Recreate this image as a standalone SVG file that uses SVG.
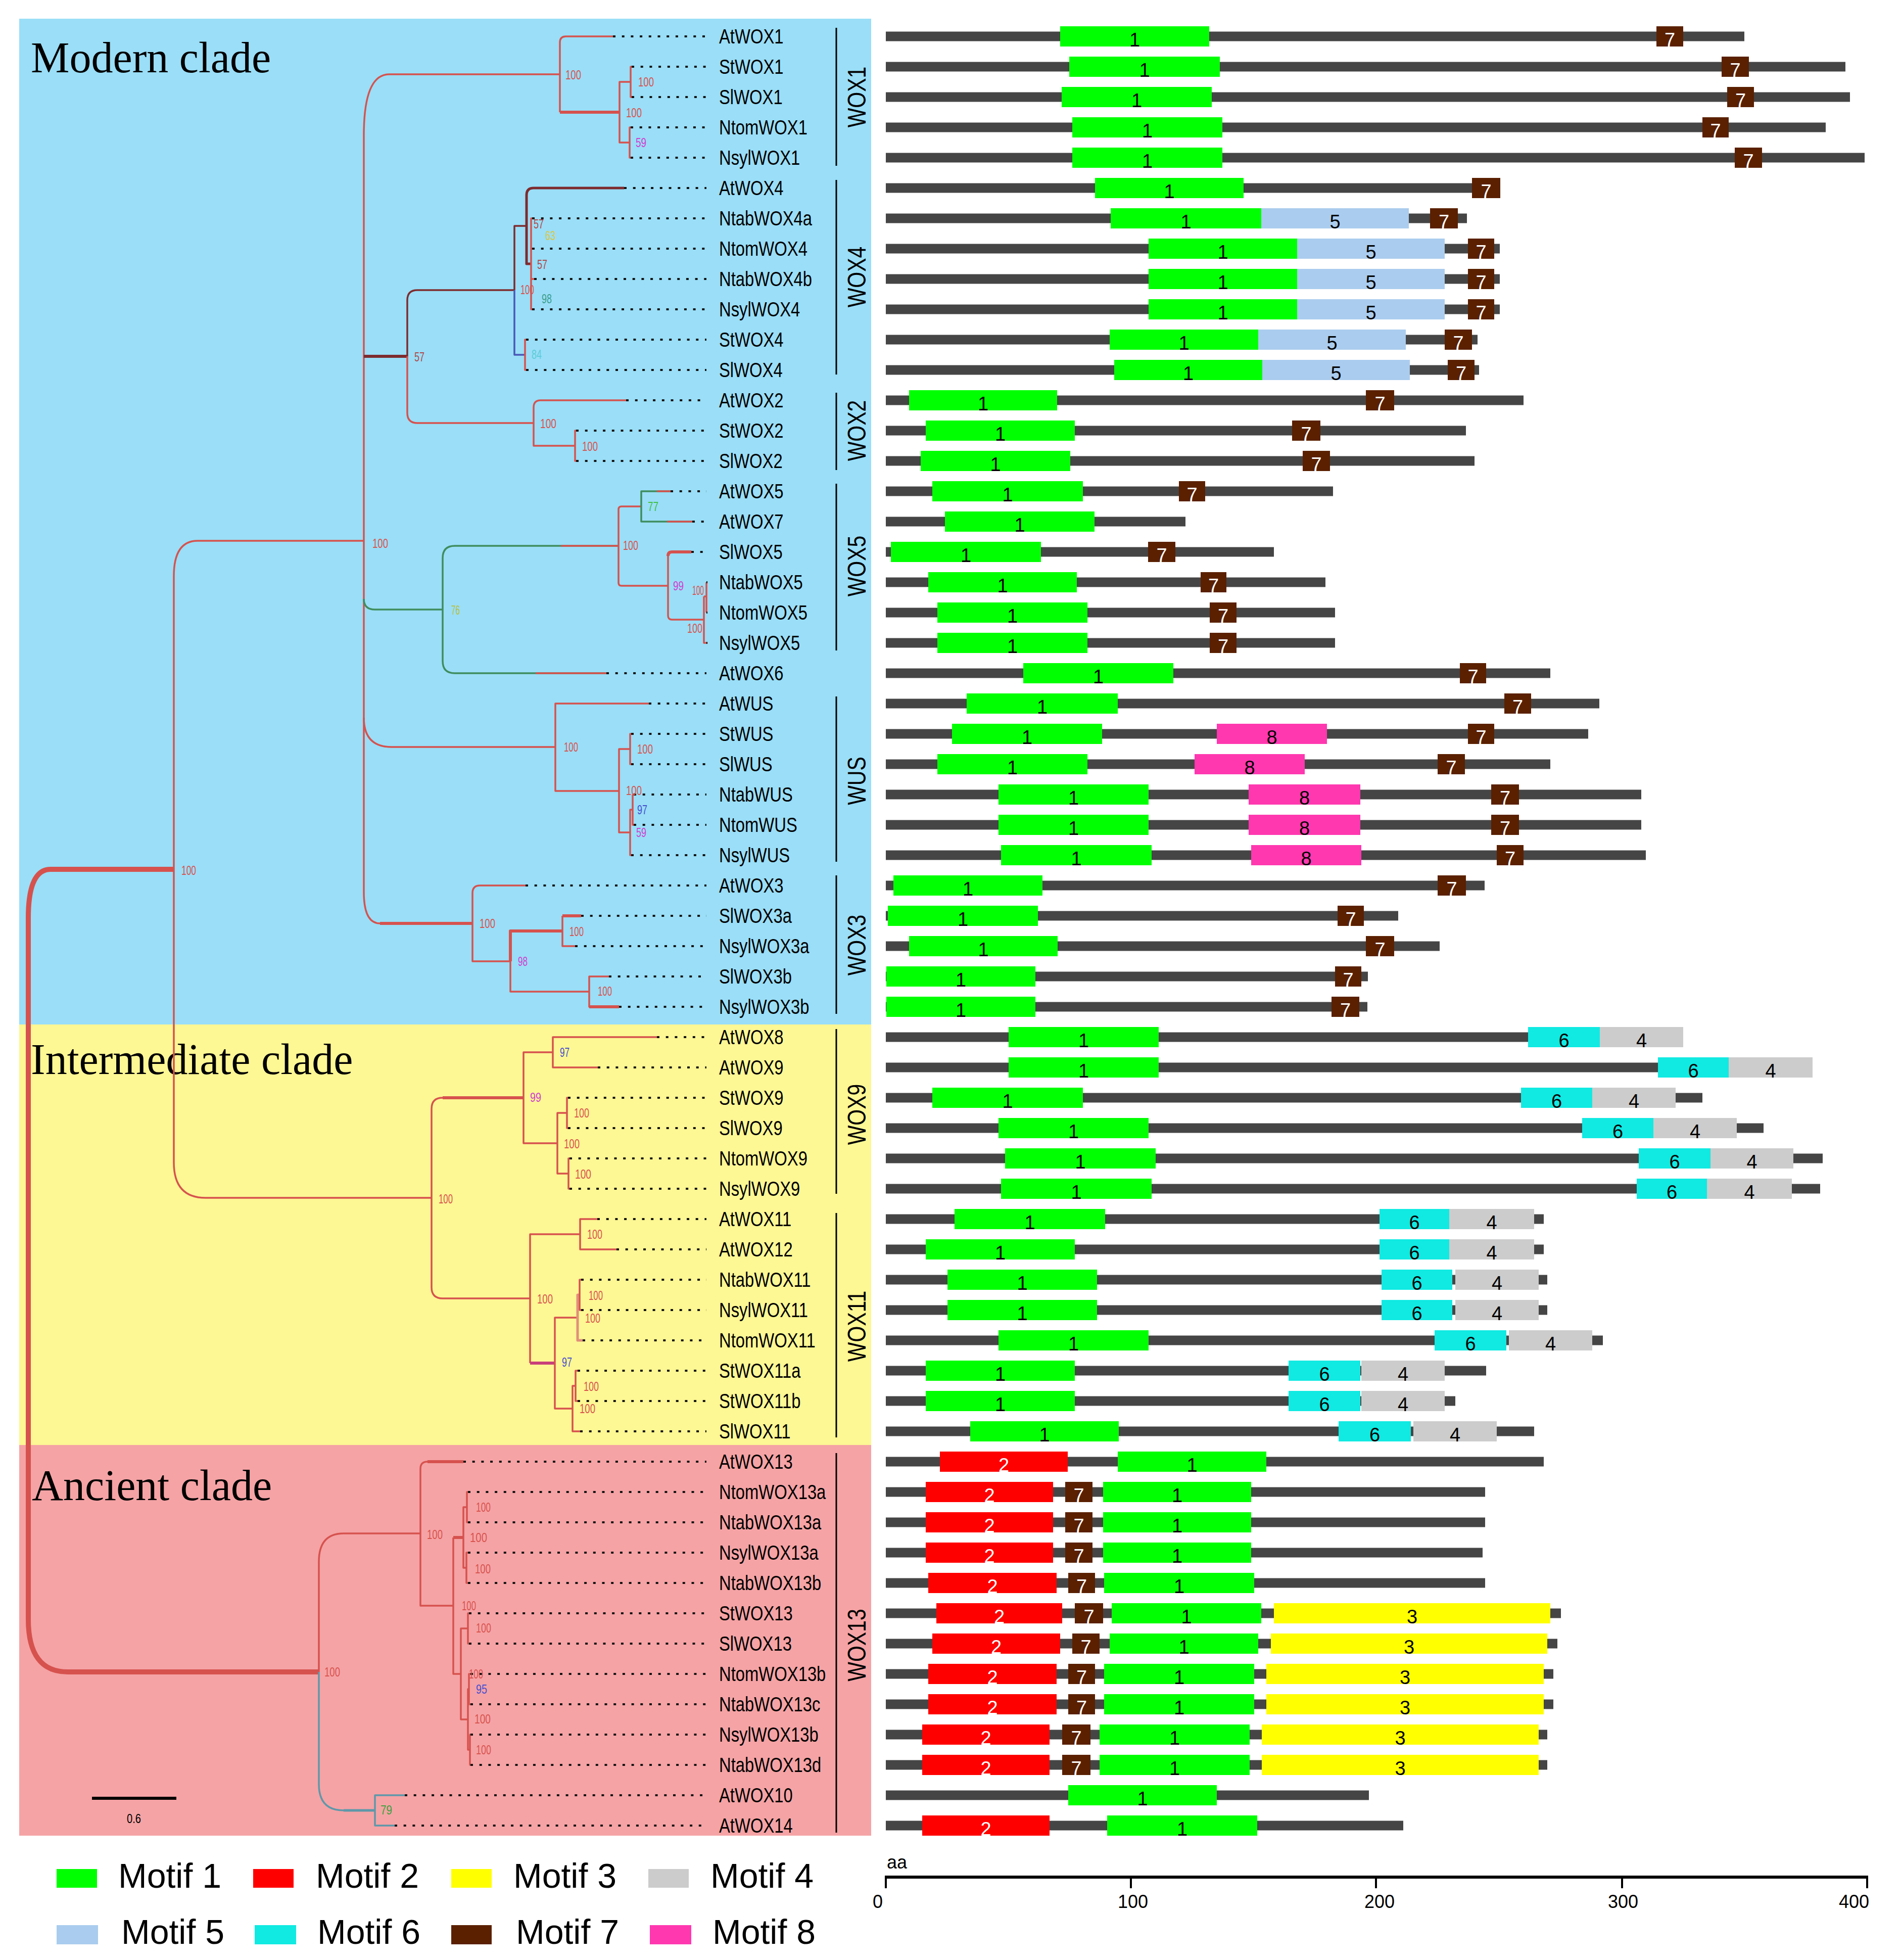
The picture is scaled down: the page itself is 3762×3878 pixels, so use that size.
<svg xmlns="http://www.w3.org/2000/svg" width="3762" height="3878" viewBox="0 0 3762 3878">
<style>
.br{fill:none;stroke:#D6524E;stroke-width:3.5;stroke-linejoin:round}
.tk{stroke-width:6}
.mr{stroke:#7E2B2E}
.gr{stroke:#3F8D5E}
.bl{stroke:#4A58B8}
.tl{stroke:#5E98AA}
.mg{stroke:#C8407A}
.dot{fill:none;stroke:#111;stroke-width:4;stroke-dasharray:5 12.7}
.lab{font-family:"Liberation Sans",Arial,sans-serif;font-size:40px;fill:#000}
.grp{font-family:"Liberation Sans",Arial,sans-serif;font-size:50px;text-anchor:middle;fill:#000}
.bs{font-family:"Liberation Sans",Arial,sans-serif;font-size:26px;fill:#D9534F}
.seq{fill:#454545}
.m1{fill:#00FF00}.m2{fill:#FF0000}.m3{fill:#FFFF00}.m4{fill:#CCCCCC}.m5{fill:#AACCEE}.m6{fill:#10EAE2}.m7{fill:#5A2000}.m8{fill:#FF38B0}
.mn{font-family:"Liberation Sans",Arial,sans-serif;font-size:38px;text-anchor:middle;fill:#000}
.mw{fill:#FFFFFF}
.clade{font-family:"Liberation Serif","Times New Roman",serif;font-size:86px;fill:#000}
.leg{font-family:"Liberation Sans",Arial,sans-serif;font-size:68px;fill:#000}
.ax{font-family:"Liberation Sans",Arial,sans-serif;font-size:36px;text-anchor:middle;fill:#000}
.gbar{stroke:#000;stroke-width:3}
</style>
<rect width="3762" height="3878" fill="#FFFFFF"/>
<g id="panels">
<rect x="38" y="37" width="1686" height="1990" fill="#9ADEF7"/>
<rect x="38" y="2027" width="1686" height="832" fill="#FDF794"/>
<rect x="38" y="2859" width="1686" height="773" fill="#F5A3A5"/>
<text class="clade" x="61" y="143">Modern clade</text>
<text class="clade" x="61" y="2125">Intermediate clade</text>
<text class="clade" x="63" y="2968">Ancient clade</text>
</g>
<g id="connectors">
<path class="br" style="stroke-width:10" d="M344,1720 H100 Q56,1720 56,1816 V3204 Q56,3308 134,3308 H631"/>
<path class="br" d="M720,1070 H391 Q344,1070 344,1140 V2300 Q344,2370 407,2370 H854"/>
<path class="br" d="M1108,147 H770 Q720,147 720,268 V1765 Q720,1827 752,1827"/>
<path class="br tk" d="M752,1827 H935"/>
<path class="br tk mr" d="M720,705 H806"/>
<path class="br gr" d="M720,1185 Q720,1206 742,1206 H876"/>
<path class="br" d="M720,1420 Q720,1478 775,1478 H1099"/>
<path class="br" d="M1213,72 H1120 Q1108,72 1108,84 V222"/>
<path class="br tk" d="M1108,222 H1226"/>
<path class="br" d="M1248,162 H1226 V282 H1246"/>
<path class="br" d="M1250,132 H1248 V192 H1250"/>
<path class="br" d="M1248,252 H1246 V312 H1248"/>
<path class="br mr" d="M1018,574 H826 Q806,574 806,594 V705"/>
<path class="br" d="M806,705 V817 Q806,837 826,837 H1056"/>
<path class="br mr" d="M1042,447 H1018 V574"/>
<path class="br bl" d="M1018,574 V702 H1039"/>
<path class="br mr" style="stroke-width:5" d="M1235,372 H1056 Q1042,372 1042,386 V522 H1051"/>
<path class="br" d="M1053,432 H1051 V612 H1053 M1051,492 H1053 M1051,552 H1057"/>
<path class="br" d="M1041,672 H1039 V732 H1041"/>
<path class="br" d="M1239,792 H1070 Q1056,792 1056,806 V882 H1138"/>
<path class="br" d="M1140,852 H1138 V912 H1140"/>
<path class="br gr" d="M1224,1080 H900 Q876,1080 876,1104 V1308 Q876,1332 900,1332 H1200"/>
<path class="br" d="M1060,1332 H1200 M1110,1080 H1224"/>
<path class="br" d="M1269,1002 H1230 Q1224,1002 1224,1008 V1153 Q1224,1159 1230,1159 H1322"/>
<path class="br gr" d="M1327,972 H1269 V1032 H1370"/>
<path class="br" d="M1300,972 H1327 M1320,1032 H1370"/>
<path class="br" d="M1322,1100 V1218 Q1322,1226 1330,1226 H1393"/>
<path class="br tk" d="M1368,1092 H1330 Q1322,1092 1322,1100"/>
<path class="br" d="M1393,1180 V1272 H1398 M1393,1180 H1398 M1398,1152 V1212"/>
<path class="br" d="M1284,1392 H1099 V1565 H1225"/>
<path class="br" d="M1247,1482 H1225 V1647 H1247"/>
<path class="br" d="M1249,1452 H1247 V1512 H1249"/>
<path class="br" d="M1252,1602 H1247 V1692 H1249 M1252,1572 V1632 H1254 M1252,1572 H1254"/>
<path class="br" d="M1040,1752 H950 Q935,1752 935,1767 V1902 H1010"/>
<path class="br" d="M1010,1902 V1962 H1166"/>
<path class="br tk" d="M1010,1902 V1842 H1113"/>
<path class="br" d="M1113,1812 V1872 H1138"/>
<path class="br tk" d="M1113,1812 H1150"/>
<path class="br" d="M1205,1932 H1166 V1992 H1190"/>
<path class="br tk" d="M1166,1992 H1225"/>
<path class="br" d="M1036,2172 H876 Q854,2172 854,2194 V2547 Q854,2569 876,2569 H1049"/>
<path class="br tk" d="M876,2172 H1036"/>
<path class="br" d="M1094,2082 H1036 V2262 H1103"/>
<path class="br" d="M1300,2052 H1094 V2112 H1183"/>
<path class="br" d="M1122,2202 H1103 V2322 H1125"/>
<path class="br" d="M1124,2172 H1122 V2232 H1124"/>
<path class="br" d="M1127,2292 H1125 V2352 H1127"/>
<path class="br" d="M1148,2442 H1049 V2697"/>
<path class="br tk mg" d="M1049,2697 H1098"/>
<path class="br" d="M1182,2412 H1148 V2472 H1220"/>
<path class="br" d="M1143,2607 H1098 V2787 H1133"/>
<path class="br" style="stroke:#E0907A;stroke-width:5" d="M1147,2562 H1143 V2652 H1153"/>
<path class="br" d="M1150,2532 H1147 V2592 H1150"/>
<path class="br" d="M1139,2742 H1133 V2832 H1148"/>
<path class="br" d="M1143,2712 H1139 V2772 H1143"/>
<path class="br" d="M832,3034 H680 Q631,3034 631,3090 V3308"/>
<path class="br tl" d="M631,3308 V3530 Q631,3582 680,3582 H742"/>
<path class="br tk" d="M680,3582 H742" style="stroke:#5E98AA;stroke-width:5"/>
<path class="br" d="M846,2892 Q832,2892 832,2906 V3177 H897"/>
<path class="br" style="stroke-width:6" d="M917,2892 H846"/>
<path class="br" d="M897,3042 V3312 H912"/>
<path class="br tk" d="M897,3042 H917"/>
<path class="br" d="M924,2982 H917 V3102 H923"/>
<path class="br" d="M926,2952 H924 V3012 H926"/>
<path class="br" d="M926,3072 H923 V3132 H926"/>
<path class="br" d="M926,3222 H912 V3402 H926"/>
<path class="br" d="M928,3192 H926 V3252 H928"/>
<path class="br" d="M928,3342 H926 V3462 H930"/>
<path class="br" d="M931,3312 H928 V3372 H931"/>
<path class="br" d="M931,3432 H930 V3492 H931"/>
<path class="br tl" d="M801,3552 H742 V3612 H781"/>
<path class="dot" d="M1213,72H1398M1250,132H1398M1250,192H1398M1248,252H1398M1248,312H1398M1235,372H1398M1053,432H1398M1053,492H1398M1057,552H1398M1053,612H1398M1041,672H1398M1041,732H1398M1239,792H1398M1140,852H1398M1140,912H1398M1327,972H1398M1370,1032H1398M1368,1092H1398M1398,1152H1400M1398,1212H1400M1398,1272H1400M1200,1332H1398M1284,1392H1398M1249,1452H1398M1249,1512H1398M1254,1572H1398M1254,1632H1398M1249,1692H1398M1040,1752H1398M1150,1812H1398M1138,1872H1398M1205,1932H1398M1225,1992H1398M1300,2052H1398M1183,2112H1398M1124,2172H1398M1124,2232H1398M1127,2292H1398M1127,2352H1398M1182,2412H1398M1220,2472H1398M1150,2532H1398M1150,2592H1398M1153,2652H1398M1143,2712H1398M1143,2772H1398M1148,2832H1398M917,2892H1398M926,2952H1398M926,3012H1398M926,3072H1398M926,3132H1398M928,3192H1398M928,3252H1398M931,3312H1398M931,3372H1398M931,3432H1398M931,3492H1398M801,3552H1398M781,3612H1398"/>
</g>
<g id="bootstrap">
<text class="bs" x="1119" y="157" textLength="31" lengthAdjust="spacingAndGlyphs">100</text>
<text class="bs" x="1263" y="171" textLength="31" lengthAdjust="spacingAndGlyphs">100</text>
<text class="bs" x="1239" y="232" textLength="31" lengthAdjust="spacingAndGlyphs">100</text>
<text class="bs" x="1258" y="291" textLength="21" lengthAdjust="spacingAndGlyphs" style="fill:#D040D0">59</text>
<text class="bs" x="1056" y="452" textLength="20" lengthAdjust="spacingAndGlyphs" style="fill:#B04848">57</text>
<text class="bs" x="1079" y="475" textLength="20" lengthAdjust="spacingAndGlyphs" style="fill:#D8C848">63</text>
<text class="bs" x="1063" y="532" textLength="20" lengthAdjust="spacingAndGlyphs" style="fill:#B04848">57</text>
<text class="bs" x="1030" y="582" textLength="27" lengthAdjust="spacingAndGlyphs">100</text>
<text class="bs" x="1072" y="600" textLength="20" lengthAdjust="spacingAndGlyphs" style="fill:#3A9E8E">98</text>
<text class="bs" x="1052" y="710" textLength="20" lengthAdjust="spacingAndGlyphs" style="fill:#5CCCD8">84</text>
<text class="bs" x="820" y="715" textLength="20" lengthAdjust="spacingAndGlyphs" style="fill:#B04848">57</text>
<text class="bs" x="1069" y="847" textLength="32" lengthAdjust="spacingAndGlyphs">100</text>
<text class="bs" x="1152" y="892" textLength="31" lengthAdjust="spacingAndGlyphs">100</text>
<text class="bs" x="737" y="1084" textLength="31" lengthAdjust="spacingAndGlyphs">100</text>
<text class="bs" x="893" y="1216" textLength="17" lengthAdjust="spacingAndGlyphs" style="fill:#B8C040">76</text>
<text class="bs" x="1282" y="1011" textLength="21" lengthAdjust="spacingAndGlyphs" style="fill:#40C040">77</text>
<text class="bs" x="1233" y="1088" textLength="30" lengthAdjust="spacingAndGlyphs">100</text>
<text class="bs" x="1332" y="1168" textLength="21" lengthAdjust="spacingAndGlyphs" style="fill:#D040D0">99</text>
<text class="bs" x="1370" y="1177" textLength="23" lengthAdjust="spacingAndGlyphs">100</text>
<text class="bs" x="1360" y="1252" textLength="30" lengthAdjust="spacingAndGlyphs">100</text>
<text class="bs" x="1116" y="1487" textLength="28" lengthAdjust="spacingAndGlyphs">100</text>
<text class="bs" x="1261" y="1491" textLength="31" lengthAdjust="spacingAndGlyphs">100</text>
<text class="bs" x="1239" y="1573" textLength="31" lengthAdjust="spacingAndGlyphs">100</text>
<text class="bs" x="1261" y="1611" textLength="20" lengthAdjust="spacingAndGlyphs" style="fill:#4850D0">97</text>
<text class="bs" x="1259" y="1656" textLength="20" lengthAdjust="spacingAndGlyphs" style="fill:#D040D0">59</text>
<text class="bs" x="359" y="1731" textLength="29" lengthAdjust="spacingAndGlyphs">100</text>
<text class="bs" x="949" y="1836" textLength="31" lengthAdjust="spacingAndGlyphs">100</text>
<text class="bs" x="1127" y="1852" textLength="28" lengthAdjust="spacingAndGlyphs">100</text>
<text class="bs" x="1025" y="1911" textLength="19" lengthAdjust="spacingAndGlyphs" style="fill:#D040D0">98</text>
<text class="bs" x="1183" y="1970" textLength="28" lengthAdjust="spacingAndGlyphs">100</text>
<text class="bs" x="1108" y="2091" textLength="19" lengthAdjust="spacingAndGlyphs" style="fill:#4850D0">97</text>
<text class="bs" x="1049" y="2180" textLength="22" lengthAdjust="spacingAndGlyphs" style="fill:#D040D0">99</text>
<text class="bs" x="1136" y="2211" textLength="30" lengthAdjust="spacingAndGlyphs">100</text>
<text class="bs" x="1116" y="2272" textLength="31" lengthAdjust="spacingAndGlyphs">100</text>
<text class="bs" x="1138" y="2332" textLength="32" lengthAdjust="spacingAndGlyphs">100</text>
<text class="bs" x="868" y="2381" textLength="28" lengthAdjust="spacingAndGlyphs">100</text>
<text class="bs" x="1063" y="2579" textLength="31" lengthAdjust="spacingAndGlyphs">100</text>
<text class="bs" x="1162" y="2451" textLength="30" lengthAdjust="spacingAndGlyphs">100</text>
<text class="bs" x="1112" y="2704" textLength="20" lengthAdjust="spacingAndGlyphs" style="fill:#4850D0">97</text>
<text class="bs" x="1165" y="2572" textLength="28" lengthAdjust="spacingAndGlyphs">100</text>
<text class="bs" x="1158" y="2617" textLength="30" lengthAdjust="spacingAndGlyphs">100</text>
<text class="bs" x="1155" y="2752" textLength="30" lengthAdjust="spacingAndGlyphs">100</text>
<text class="bs" x="1147" y="2796" textLength="31" lengthAdjust="spacingAndGlyphs">100</text>
<text class="bs" x="845" y="3045" textLength="31" lengthAdjust="spacingAndGlyphs">100</text>
<text class="bs" x="642" y="3317" textLength="31" lengthAdjust="spacingAndGlyphs">100</text>
<text class="bs" x="753" y="3590" textLength="23" lengthAdjust="spacingAndGlyphs" style="fill:#40A040">79</text>
<text class="bs" x="930" y="3051" textLength="34" lengthAdjust="spacingAndGlyphs">100</text>
<text class="bs" x="942" y="2991" textLength="29" lengthAdjust="spacingAndGlyphs">100</text>
<text class="bs" x="940" y="3113" textLength="31" lengthAdjust="spacingAndGlyphs">100</text>
<text class="bs" x="914" y="3186" textLength="28" lengthAdjust="spacingAndGlyphs">100</text>
<text class="bs" x="942" y="3230" textLength="30" lengthAdjust="spacingAndGlyphs">100</text>
<text class="bs" x="928" y="3321" textLength="28" lengthAdjust="spacingAndGlyphs">100</text>
<text class="bs" x="942" y="3351" textLength="22" lengthAdjust="spacingAndGlyphs" style="fill:#4850D0">95</text>
<text class="bs" x="939" y="3410" textLength="32" lengthAdjust="spacingAndGlyphs">100</text>
<text class="bs" x="942" y="3471" textLength="30" lengthAdjust="spacingAndGlyphs">100</text>
</g>
<g id="groups">
<path class="gbar" d="M1655,55V328M1655,356V741M1655,777V930M1655,957V1287M1655,1378V1705M1655,1732V2006M1655,2036V2362M1655,2400V2844M1655,2875V3626"/>
<text class="grp" transform="translate(1713,192) rotate(-90) scale(0.82,1)">WOX1</text>
<text class="grp" transform="translate(1713,548) rotate(-90) scale(0.82,1)">WOX4</text>
<text class="grp" transform="translate(1713,852) rotate(-90) scale(0.82,1)">WOX2</text>
<text class="grp" transform="translate(1713,1120) rotate(-90) scale(0.82,1)">WOX5</text>
<text class="grp" transform="translate(1713,1545) rotate(-90) scale(0.82,1)">WUS</text>
<text class="grp" transform="translate(1713,1870) rotate(-90) scale(0.82,1)">WOX3</text>
<text class="grp" transform="translate(1713,2205) rotate(-90) scale(0.82,1)">WOX9</text>
<text class="grp" transform="translate(1713,2624) rotate(-90) scale(0.82,1)">WOX11</text>
<text class="grp" transform="translate(1713,3255) rotate(-90) scale(0.82,1)">WOX13</text>
</g>
<g id="AtWOX1"><text class="lab" transform="translate(1423,86) scale(0.82,1)">AtWOX1</text><rect class="seq" x="1753" y="62.5" width="1699" height="19"/><rect class="m1" x="2098" y="52" width="295" height="40"/><text class="mn" x="2245.5" y="92">1</text><rect class="m7" x="3278" y="52" width="53" height="40"/><text class="mn mw" x="3304.5" y="92">7</text></g>
<g id="StWOX1"><text class="lab" transform="translate(1423,146) scale(0.82,1)">StWOX1</text><rect class="seq" x="1753" y="122.5" width="1899" height="19"/><rect class="m1" x="2116" y="112" width="298" height="40"/><text class="mn" x="2265" y="152">1</text><rect class="m7" x="3407" y="112" width="54" height="40"/><text class="mn mw" x="3434" y="152">7</text></g>
<g id="SlWOX1"><text class="lab" transform="translate(1423,206) scale(0.82,1)">SlWOX1</text><rect class="seq" x="1753" y="182.5" width="1908" height="19"/><rect class="m1" x="2101" y="172" width="297" height="40"/><text class="mn" x="2249.5" y="212">1</text><rect class="m7" x="3418" y="172" width="53" height="40"/><text class="mn mw" x="3444.5" y="212">7</text></g>
<g id="NtomWOX1"><text class="lab" transform="translate(1423,266) scale(0.82,1)">NtomWOX1</text><rect class="seq" x="1753" y="242.5" width="1860" height="19"/><rect class="m1" x="2122" y="232" width="297" height="40"/><text class="mn" x="2270.5" y="272">1</text><rect class="m7" x="3369" y="232" width="52" height="40"/><text class="mn mw" x="3395" y="272">7</text></g>
<g id="NsylWOX1"><text class="lab" transform="translate(1423,326) scale(0.82,1)">NsylWOX1</text><rect class="seq" x="1753" y="302.5" width="1937" height="19"/><rect class="m1" x="2122" y="292" width="297" height="40"/><text class="mn" x="2270.5" y="332">1</text><rect class="m7" x="3433" y="292" width="54" height="40"/><text class="mn mw" x="3460" y="332">7</text></g>
<g id="AtWOX4"><text class="lab" transform="translate(1423,386) scale(0.82,1)">AtWOX4</text><rect class="seq" x="1753" y="362.5" width="1216" height="19"/><rect class="m1" x="2167" y="352" width="294" height="40"/><text class="mn" x="2314" y="392">1</text><rect class="m7" x="2913" y="352" width="56" height="40"/><text class="mn mw" x="2941" y="392">7</text></g>
<g id="NtabWOX4a"><text class="lab" transform="translate(1423,446) scale(0.82,1)">NtabWOX4a</text><rect class="seq" x="1753" y="422.5" width="1150" height="19"/><rect class="m1" x="2198" y="412" width="298" height="40"/><text class="mn" x="2347" y="452">1</text><rect class="m5" x="2496" y="412" width="292" height="40"/><text class="mn" x="2642" y="452">5</text><rect class="m7" x="2830" y="412" width="55" height="40"/><text class="mn mw" x="2857.5" y="452">7</text></g>
<g id="NtomWOX4"><text class="lab" transform="translate(1423,506) scale(0.82,1)">NtomWOX4</text><rect class="seq" x="1753" y="482.5" width="1215" height="19"/><rect class="m1" x="2273" y="472" width="294" height="40"/><text class="mn" x="2420" y="512">1</text><rect class="m5" x="2567" y="472" width="292" height="40"/><text class="mn" x="2713" y="512">5</text><rect class="m7" x="2905" y="472" width="52" height="40"/><text class="mn mw" x="2931" y="512">7</text></g>
<g id="NtabWOX4b"><text class="lab" transform="translate(1423,566) scale(0.82,1)">NtabWOX4b</text><rect class="seq" x="1753" y="542.5" width="1215" height="19"/><rect class="m1" x="2273" y="532" width="294" height="40"/><text class="mn" x="2420" y="572">1</text><rect class="m5" x="2567" y="532" width="292" height="40"/><text class="mn" x="2713" y="572">5</text><rect class="m7" x="2905" y="532" width="52" height="40"/><text class="mn mw" x="2931" y="572">7</text></g>
<g id="NsylWOX4"><text class="lab" transform="translate(1423,626) scale(0.82,1)">NsylWOX4</text><rect class="seq" x="1753" y="602.5" width="1215" height="19"/><rect class="m1" x="2273" y="592" width="294" height="40"/><text class="mn" x="2420" y="632">1</text><rect class="m5" x="2567" y="592" width="292" height="40"/><text class="mn" x="2713" y="632">5</text><rect class="m7" x="2905" y="592" width="52" height="40"/><text class="mn mw" x="2931" y="632">7</text></g>
<g id="StWOX4"><text class="lab" transform="translate(1423,686) scale(0.82,1)">StWOX4</text><rect class="seq" x="1753" y="662.5" width="1171" height="19"/><rect class="m1" x="2196" y="652" width="294" height="40"/><text class="mn" x="2343" y="692">1</text><rect class="m5" x="2490" y="652" width="292" height="40"/><text class="mn" x="2636" y="692">5</text><rect class="m7" x="2859" y="652" width="54" height="40"/><text class="mn mw" x="2886" y="692">7</text></g>
<g id="SlWOX4"><text class="lab" transform="translate(1423,746) scale(0.82,1)">SlWOX4</text><rect class="seq" x="1753" y="722.5" width="1174" height="19"/><rect class="m1" x="2205" y="712" width="293" height="40"/><text class="mn" x="2351.5" y="752">1</text><rect class="m5" x="2498" y="712" width="292" height="40"/><text class="mn" x="2644" y="752">5</text><rect class="m7" x="2865" y="712" width="53" height="40"/><text class="mn mw" x="2891.5" y="752">7</text></g>
<g id="AtWOX2"><text class="lab" transform="translate(1423,806) scale(0.82,1)">AtWOX2</text><rect class="seq" x="1753" y="782.5" width="1262" height="19"/><rect class="m1" x="1799" y="772" width="293" height="40"/><text class="mn" x="1945.5" y="812">1</text><rect class="m7" x="2703" y="772" width="56" height="40"/><text class="mn mw" x="2731" y="812">7</text></g>
<g id="StWOX2"><text class="lab" transform="translate(1423,866) scale(0.82,1)">StWOX2</text><rect class="seq" x="1753" y="842.5" width="1148" height="19"/><rect class="m1" x="1832" y="832" width="295" height="40"/><text class="mn" x="1979.5" y="872">1</text><rect class="m7" x="2557" y="832" width="56" height="40"/><text class="mn mw" x="2585" y="872">7</text></g>
<g id="SlWOX2"><text class="lab" transform="translate(1423,926) scale(0.82,1)">SlWOX2</text><rect class="seq" x="1753" y="902.5" width="1165" height="19"/><rect class="m1" x="1822" y="892" width="296" height="40"/><text class="mn" x="1970" y="932">1</text><rect class="m7" x="2578" y="892" width="54" height="40"/><text class="mn mw" x="2605" y="932">7</text></g>
<g id="AtWOX5"><text class="lab" transform="translate(1423,986) scale(0.82,1)">AtWOX5</text><rect class="seq" x="1753" y="962.5" width="885" height="19"/><rect class="m1" x="1845" y="952" width="298" height="40"/><text class="mn" x="1994" y="992">1</text><rect class="m7" x="2333" y="952" width="52" height="40"/><text class="mn mw" x="2359" y="992">7</text></g>
<g id="AtWOX7"><text class="lab" transform="translate(1423,1046) scale(0.82,1)">AtWOX7</text><rect class="seq" x="1753" y="1022.5" width="593" height="19"/><rect class="m1" x="1870" y="1012" width="296" height="40"/><text class="mn" x="2018" y="1052">1</text></g>
<g id="SlWOX5"><text class="lab" transform="translate(1423,1106) scale(0.82,1)">SlWOX5</text><rect class="seq" x="1753" y="1082.5" width="768" height="19"/><rect class="m1" x="1763" y="1072" width="297" height="40"/><text class="mn" x="1911.5" y="1112">1</text><rect class="m7" x="2272" y="1072" width="54" height="40"/><text class="mn mw" x="2299" y="1112">7</text></g>
<g id="NtabWOX5"><text class="lab" transform="translate(1423,1166) scale(0.82,1)">NtabWOX5</text><rect class="seq" x="1753" y="1142.5" width="870" height="19"/><rect class="m1" x="1837" y="1132" width="294" height="40"/><text class="mn" x="1984" y="1172">1</text><rect class="m7" x="2376" y="1132" width="51" height="40"/><text class="mn mw" x="2401.5" y="1172">7</text></g>
<g id="NtomWOX5"><text class="lab" transform="translate(1423,1226) scale(0.82,1)">NtomWOX5</text><rect class="seq" x="1753" y="1202.5" width="889" height="19"/><rect class="m1" x="1855" y="1192" width="297" height="40"/><text class="mn" x="2003.5" y="1232">1</text><rect class="m7" x="2394" y="1192" width="53" height="40"/><text class="mn mw" x="2420.5" y="1232">7</text></g>
<g id="NsylWOX5"><text class="lab" transform="translate(1423,1286) scale(0.82,1)">NsylWOX5</text><rect class="seq" x="1753" y="1262.5" width="889" height="19"/><rect class="m1" x="1855" y="1252" width="297" height="40"/><text class="mn" x="2003.5" y="1292">1</text><rect class="m7" x="2394" y="1252" width="53" height="40"/><text class="mn mw" x="2420.5" y="1292">7</text></g>
<g id="AtWOX6"><text class="lab" transform="translate(1423,1346) scale(0.82,1)">AtWOX6</text><rect class="seq" x="1753" y="1322.5" width="1315" height="19"/><rect class="m1" x="2025" y="1312" width="297" height="40"/><text class="mn" x="2173.5" y="1352">1</text><rect class="m7" x="2889" y="1312" width="52" height="40"/><text class="mn mw" x="2915" y="1352">7</text></g>
<g id="AtWUS"><text class="lab" transform="translate(1423,1406) scale(0.82,1)">AtWUS</text><rect class="seq" x="1753" y="1382.5" width="1412" height="19"/><rect class="m1" x="1913" y="1372" width="299" height="40"/><text class="mn" x="2062.5" y="1412">1</text><rect class="m7" x="2977" y="1372" width="53" height="40"/><text class="mn mw" x="3003.5" y="1412">7</text></g>
<g id="StWUS"><text class="lab" transform="translate(1423,1466) scale(0.82,1)">StWUS</text><rect class="seq" x="1753" y="1442.5" width="1390" height="19"/><rect class="m1" x="1884" y="1432" width="297" height="40"/><text class="mn" x="2032.5" y="1472">1</text><rect class="m8" x="2408" y="1432" width="218" height="40"/><text class="mn" x="2517" y="1472">8</text><rect class="m7" x="2905" y="1432" width="52" height="40"/><text class="mn mw" x="2931" y="1472">7</text></g>
<g id="SlWUS"><text class="lab" transform="translate(1423,1526) scale(0.82,1)">SlWUS</text><rect class="seq" x="1753" y="1502.5" width="1315" height="19"/><rect class="m1" x="1855" y="1492" width="297" height="40"/><text class="mn" x="2003.5" y="1532">1</text><rect class="m8" x="2364" y="1492" width="218" height="40"/><text class="mn" x="2473" y="1532">8</text><rect class="m7" x="2845" y="1492" width="54" height="40"/><text class="mn mw" x="2872" y="1532">7</text></g>
<g id="NtabWUS"><text class="lab" transform="translate(1423,1586) scale(0.82,1)">NtabWUS</text><rect class="seq" x="1753" y="1562.5" width="1495" height="19"/><rect class="m1" x="1976" y="1552" width="297" height="40"/><text class="mn" x="2124.5" y="1592">1</text><rect class="m8" x="2471" y="1552" width="221" height="40"/><text class="mn" x="2581.5" y="1592">8</text><rect class="m7" x="2951" y="1552" width="55" height="40"/><text class="mn mw" x="2978.5" y="1592">7</text></g>
<g id="NtomWUS"><text class="lab" transform="translate(1423,1646) scale(0.82,1)">NtomWUS</text><rect class="seq" x="1753" y="1622.5" width="1495" height="19"/><rect class="m1" x="1976" y="1612" width="297" height="40"/><text class="mn" x="2124.5" y="1652">1</text><rect class="m8" x="2471" y="1612" width="221" height="40"/><text class="mn" x="2581.5" y="1652">8</text><rect class="m7" x="2951" y="1612" width="55" height="40"/><text class="mn mw" x="2978.5" y="1652">7</text></g>
<g id="NsylWUS"><text class="lab" transform="translate(1423,1706) scale(0.82,1)">NsylWUS</text><rect class="seq" x="1753" y="1682.5" width="1504" height="19"/><rect class="m1" x="1981" y="1672" width="298" height="40"/><text class="mn" x="2130" y="1712">1</text><rect class="m8" x="2476" y="1672" width="218" height="40"/><text class="mn" x="2585" y="1712">8</text><rect class="m7" x="2962" y="1672" width="53" height="40"/><text class="mn mw" x="2988.5" y="1712">7</text></g>
<g id="AtWOX3"><text class="lab" transform="translate(1423,1766) scale(0.82,1)">AtWOX3</text><rect class="seq" x="1753" y="1742.5" width="1185" height="19"/><rect class="m1" x="1768" y="1732" width="295" height="40"/><text class="mn" x="1915.5" y="1772">1</text><rect class="m7" x="2845" y="1732" width="56" height="40"/><text class="mn mw" x="2873" y="1772">7</text></g>
<g id="SlWOX3a"><text class="lab" transform="translate(1423,1826) scale(0.82,1)">SlWOX3a</text><rect class="seq" x="1753" y="1802.5" width="1014" height="19"/><rect class="m1" x="1757" y="1792" width="297" height="40"/><text class="mn" x="1905.5" y="1832">1</text><rect class="m7" x="2647" y="1792" width="52" height="40"/><text class="mn mw" x="2673" y="1832">7</text></g>
<g id="NsylWOX3a"><text class="lab" transform="translate(1423,1886) scale(0.82,1)">NsylWOX3a</text><rect class="seq" x="1753" y="1862.5" width="1096" height="19"/><rect class="m1" x="1799" y="1852" width="294" height="40"/><text class="mn" x="1946" y="1892">1</text><rect class="m7" x="2703" y="1852" width="56" height="40"/><text class="mn mw" x="2731" y="1892">7</text></g>
<g id="SlWOX3b"><text class="lab" transform="translate(1423,1946) scale(0.82,1)">SlWOX3b</text><rect class="seq" x="1753" y="1922.5" width="954" height="19"/><rect class="m1" x="1754" y="1912" width="295" height="40"/><text class="mn" x="1901.5" y="1952">1</text><rect class="m7" x="2642" y="1912" width="52" height="40"/><text class="mn mw" x="2668" y="1952">7</text></g>
<g id="NsylWOX3b"><text class="lab" transform="translate(1423,2006) scale(0.82,1)">NsylWOX3b</text><rect class="seq" x="1753" y="1982.5" width="953" height="19"/><rect class="m1" x="1754" y="1972" width="295" height="40"/><text class="mn" x="1901.5" y="2012">1</text><rect class="m7" x="2635" y="1972" width="55" height="40"/><text class="mn mw" x="2662.5" y="2012">7</text></g>
<g id="AtWOX8"><text class="lab" transform="translate(1423,2066) scale(0.82,1)">AtWOX8</text><rect class="seq" x="1753" y="2042.5" width="1578" height="19"/><rect class="m1" x="1996" y="2032" width="297" height="40"/><text class="mn" x="2144.5" y="2072">1</text><rect class="m6" x="3024" y="2032" width="142" height="40"/><text class="mn" x="3095" y="2072">6</text><rect class="m4" x="3166" y="2032" width="165" height="40"/><text class="mn" x="3248.5" y="2072">4</text></g>
<g id="AtWOX9"><text class="lab" transform="translate(1423,2126) scale(0.82,1)">AtWOX9</text><rect class="seq" x="1753" y="2102.5" width="1834" height="19"/><rect class="m1" x="1996" y="2092" width="297" height="40"/><text class="mn" x="2144.5" y="2132">1</text><rect class="m6" x="3281" y="2092" width="140" height="40"/><text class="mn" x="3351" y="2132">6</text><rect class="m4" x="3421" y="2092" width="166" height="40"/><text class="mn" x="3504" y="2132">4</text></g>
<g id="StWOX9"><text class="lab" transform="translate(1423,2186) scale(0.82,1)">StWOX9</text><rect class="seq" x="1753" y="2162.5" width="1616" height="19"/><rect class="m1" x="1845" y="2152" width="298" height="40"/><text class="mn" x="1994" y="2192">1</text><rect class="m6" x="3010" y="2152" width="141" height="40"/><text class="mn" x="3080.5" y="2192">6</text><rect class="m4" x="3151" y="2152" width="165" height="40"/><text class="mn" x="3233.5" y="2192">4</text></g>
<g id="SlWOX9"><text class="lab" transform="translate(1423,2246) scale(0.82,1)">SlWOX9</text><rect class="seq" x="1753" y="2222.5" width="1737" height="19"/><rect class="m1" x="1976" y="2212" width="297" height="40"/><text class="mn" x="2124.5" y="2252">1</text><rect class="m6" x="3131" y="2212" width="141" height="40"/><text class="mn" x="3201.5" y="2252">6</text><rect class="m4" x="3272" y="2212" width="165" height="40"/><text class="mn" x="3354.5" y="2252">4</text></g>
<g id="NtomWOX9"><text class="lab" transform="translate(1423,2306) scale(0.82,1)">NtomWOX9</text><rect class="seq" x="1753" y="2282.5" width="1854" height="19"/><rect class="m1" x="1989" y="2272" width="298" height="40"/><text class="mn" x="2138" y="2312">1</text><rect class="m6" x="3243" y="2272" width="142" height="40"/><text class="mn" x="3314" y="2312">6</text><rect class="m4" x="3385" y="2272" width="164" height="40"/><text class="mn" x="3467" y="2312">4</text></g>
<g id="NsylWOX9"><text class="lab" transform="translate(1423,2366) scale(0.82,1)">NsylWOX9</text><rect class="seq" x="1753" y="2342.5" width="1849" height="19"/><rect class="m1" x="1981" y="2332" width="298" height="40"/><text class="mn" x="2130" y="2372">1</text><rect class="m6" x="3239" y="2332" width="139" height="40"/><text class="mn" x="3308.5" y="2372">6</text><rect class="m4" x="3378" y="2332" width="168" height="40"/><text class="mn" x="3462" y="2372">4</text></g>
<g id="AtWOX11"><text class="lab" transform="translate(1423,2426) scale(0.82,1)">AtWOX11</text><rect class="seq" x="1753" y="2402.5" width="1302" height="19"/><rect class="m1" x="1889" y="2392" width="298" height="40"/><text class="mn" x="2038" y="2432">1</text><rect class="m6" x="2730" y="2392" width="138" height="40"/><text class="mn" x="2799" y="2432">6</text><rect class="m4" x="2868" y="2392" width="168" height="40"/><text class="mn" x="2952" y="2432">4</text></g>
<g id="AtWOX12"><text class="lab" transform="translate(1423,2486) scale(0.82,1)">AtWOX12</text><rect class="seq" x="1753" y="2462.5" width="1302" height="19"/><rect class="m1" x="1832" y="2452" width="295" height="40"/><text class="mn" x="1979.5" y="2492">1</text><rect class="m6" x="2730" y="2452" width="138" height="40"/><text class="mn" x="2799" y="2492">6</text><rect class="m4" x="2868" y="2452" width="168" height="40"/><text class="mn" x="2952" y="2492">4</text></g>
<g id="NtabWOX11"><text class="lab" transform="translate(1423,2546) scale(0.82,1)">NtabWOX11</text><rect class="seq" x="1753" y="2522.5" width="1309" height="19"/><rect class="m1" x="1875" y="2512" width="296" height="40"/><text class="mn" x="2023" y="2552">1</text><rect class="m6" x="2734" y="2512" width="140" height="40"/><text class="mn" x="2804" y="2552">6</text><rect class="m4" x="2880" y="2512" width="165" height="40"/><text class="mn" x="2962.5" y="2552">4</text></g>
<g id="NsylWOX11"><text class="lab" transform="translate(1423,2606) scale(0.82,1)">NsylWOX11</text><rect class="seq" x="1753" y="2582.5" width="1309" height="19"/><rect class="m1" x="1875" y="2572" width="296" height="40"/><text class="mn" x="2023" y="2612">1</text><rect class="m6" x="2734" y="2572" width="140" height="40"/><text class="mn" x="2804" y="2612">6</text><rect class="m4" x="2880" y="2572" width="165" height="40"/><text class="mn" x="2962.5" y="2612">4</text></g>
<g id="NtomWOX11"><text class="lab" transform="translate(1423,2666) scale(0.82,1)">NtomWOX11</text><rect class="seq" x="1753" y="2642.5" width="1419" height="19"/><rect class="m1" x="1976" y="2632" width="297" height="40"/><text class="mn" x="2124.5" y="2672">1</text><rect class="m6" x="2839" y="2632" width="142" height="40"/><text class="mn" x="2910" y="2672">6</text><rect class="m4" x="2986" y="2632" width="165" height="40"/><text class="mn" x="3068.5" y="2672">4</text></g>
<g id="StWOX11a"><text class="lab" transform="translate(1423,2726) scale(0.82,1)">StWOX11a</text><rect class="seq" x="1753" y="2702.5" width="1188" height="19"/><rect class="m1" x="1832" y="2692" width="295" height="40"/><text class="mn" x="1979.5" y="2732">1</text><rect class="m6" x="2550" y="2692" width="142" height="40"/><text class="mn" x="2621" y="2732">6</text><rect class="m4" x="2694" y="2692" width="165" height="40"/><text class="mn" x="2776.5" y="2732">4</text></g>
<g id="StWOX11b"><text class="lab" transform="translate(1423,2786) scale(0.82,1)">StWOX11b</text><rect class="seq" x="1753" y="2762.5" width="1127" height="19"/><rect class="m1" x="1832" y="2752" width="295" height="40"/><text class="mn" x="1979.5" y="2792">1</text><rect class="m6" x="2550" y="2752" width="142" height="40"/><text class="mn" x="2621" y="2792">6</text><rect class="m4" x="2694" y="2752" width="165" height="40"/><text class="mn" x="2776.5" y="2792">4</text></g>
<g id="SlWOX11"><text class="lab" transform="translate(1423,2846) scale(0.82,1)">SlWOX11</text><rect class="seq" x="1753" y="2822.5" width="1283" height="19"/><rect class="m1" x="1920" y="2812" width="294" height="40"/><text class="mn" x="2067" y="2852">1</text><rect class="m6" x="2649" y="2812" width="143" height="40"/><text class="mn" x="2720.5" y="2852">6</text><rect class="m4" x="2797" y="2812" width="165" height="40"/><text class="mn" x="2879.5" y="2852">4</text></g>
<g id="AtWOX13"><text class="lab" transform="translate(1423,2906) scale(0.82,1)">AtWOX13</text><rect class="seq" x="1753" y="2882.5" width="1302" height="19"/><rect class="m2" x="1860" y="2872" width="253" height="40"/><text class="mn mw" x="1986.5" y="2912">2</text><rect class="m1" x="2212" y="2872" width="294" height="40"/><text class="mn" x="2359" y="2912">1</text></g>
<g id="NtomWOX13a"><text class="lab" transform="translate(1423,2966) scale(0.82,1)">NtomWOX13a</text><rect class="seq" x="1753" y="2942.5" width="1186" height="19"/><rect class="m2" x="1832" y="2932" width="252" height="40"/><text class="mn mw" x="1958" y="2972">2</text><rect class="m7" x="2108" y="2932" width="54" height="40"/><text class="mn mw" x="2135" y="2972">7</text><rect class="m1" x="2183" y="2932" width="293" height="40"/><text class="mn" x="2329.5" y="2972">1</text></g>
<g id="NtabWOX13a"><text class="lab" transform="translate(1423,3026) scale(0.82,1)">NtabWOX13a</text><rect class="seq" x="1753" y="3002.5" width="1186" height="19"/><rect class="m2" x="1832" y="2992" width="252" height="40"/><text class="mn mw" x="1958" y="3032">2</text><rect class="m7" x="2108" y="2992" width="54" height="40"/><text class="mn mw" x="2135" y="3032">7</text><rect class="m1" x="2183" y="2992" width="293" height="40"/><text class="mn" x="2329.5" y="3032">1</text></g>
<g id="NsylWOX13a"><text class="lab" transform="translate(1423,3086) scale(0.82,1)">NsylWOX13a</text><rect class="seq" x="1753" y="3062.5" width="1181" height="19"/><rect class="m2" x="1832" y="3052" width="252" height="40"/><text class="mn mw" x="1958" y="3092">2</text><rect class="m7" x="2108" y="3052" width="54" height="40"/><text class="mn mw" x="2135" y="3092">7</text><rect class="m1" x="2183" y="3052" width="293" height="40"/><text class="mn" x="2329.5" y="3092">1</text></g>
<g id="NtabWOX13b"><text class="lab" transform="translate(1423,3146) scale(0.82,1)">NtabWOX13b</text><rect class="seq" x="1753" y="3122.5" width="1186" height="19"/><rect class="m2" x="1837" y="3112" width="254" height="40"/><text class="mn mw" x="1964" y="3152">2</text><rect class="m7" x="2114" y="3112" width="53" height="40"/><text class="mn mw" x="2140.5" y="3152">7</text><rect class="m1" x="2185" y="3112" width="297" height="40"/><text class="mn" x="2333.5" y="3152">1</text></g>
<g id="StWOX13"><text class="lab" transform="translate(1423,3206) scale(0.82,1)">StWOX13</text><rect class="seq" x="1753" y="3182.5" width="1336" height="19"/><rect class="m2" x="1853" y="3172" width="249" height="40"/><text class="mn mw" x="1977.5" y="3212">2</text><rect class="m7" x="2127" y="3172" width="56" height="40"/><text class="mn mw" x="2155" y="3212">7</text><rect class="m1" x="2200" y="3172" width="296" height="40"/><text class="mn" x="2348" y="3212">1</text><rect class="m3" x="2521" y="3172" width="547" height="40"/><text class="mn" x="2794.5" y="3212">3</text></g>
<g id="SlWOX13"><text class="lab" transform="translate(1423,3266) scale(0.82,1)">SlWOX13</text><rect class="seq" x="1753" y="3242.5" width="1329" height="19"/><rect class="m2" x="1845" y="3232" width="253" height="40"/><text class="mn mw" x="1971.5" y="3272">2</text><rect class="m7" x="2122" y="3232" width="54" height="40"/><text class="mn mw" x="2149" y="3272">7</text><rect class="m1" x="2196" y="3232" width="294" height="40"/><text class="mn" x="2343" y="3272">1</text><rect class="m3" x="2515" y="3232" width="547" height="40"/><text class="mn" x="2788.5" y="3272">3</text></g>
<g id="NtomWOX13b"><text class="lab" transform="translate(1423,3326) scale(0.82,1)">NtomWOX13b</text><rect class="seq" x="1753" y="3302.5" width="1321" height="19"/><rect class="m2" x="1837" y="3292" width="254" height="40"/><text class="mn mw" x="1964" y="3332">2</text><rect class="m7" x="2114" y="3292" width="53" height="40"/><text class="mn mw" x="2140.5" y="3332">7</text><rect class="m1" x="2185" y="3292" width="297" height="40"/><text class="mn" x="2333.5" y="3332">1</text><rect class="m3" x="2506" y="3292" width="549" height="40"/><text class="mn" x="2780.5" y="3332">3</text></g>
<g id="NtabWOX13c"><text class="lab" transform="translate(1423,3386) scale(0.82,1)">NtabWOX13c</text><rect class="seq" x="1753" y="3362.5" width="1321" height="19"/><rect class="m2" x="1837" y="3352" width="254" height="40"/><text class="mn mw" x="1964" y="3392">2</text><rect class="m7" x="2114" y="3352" width="53" height="40"/><text class="mn mw" x="2140.5" y="3392">7</text><rect class="m1" x="2185" y="3352" width="297" height="40"/><text class="mn" x="2333.5" y="3392">1</text><rect class="m3" x="2506" y="3352" width="549" height="40"/><text class="mn" x="2780.5" y="3392">3</text></g>
<g id="NsylWOX13b"><text class="lab" transform="translate(1423,3446) scale(0.82,1)">NsylWOX13b</text><rect class="seq" x="1753" y="3422.5" width="1309" height="19"/><rect class="m2" x="1825" y="3412" width="252" height="40"/><text class="mn mw" x="1951" y="3452">2</text><rect class="m7" x="2102" y="3412" width="56" height="40"/><text class="mn mw" x="2130" y="3452">7</text><rect class="m1" x="2176" y="3412" width="297" height="40"/><text class="mn" x="2324.5" y="3452">1</text><rect class="m3" x="2497" y="3412" width="548" height="40"/><text class="mn" x="2771" y="3452">3</text></g>
<g id="NtabWOX13d"><text class="lab" transform="translate(1423,3506) scale(0.82,1)">NtabWOX13d</text><rect class="seq" x="1753" y="3482.5" width="1309" height="19"/><rect class="m2" x="1825" y="3472" width="252" height="40"/><text class="mn mw" x="1951" y="3512">2</text><rect class="m7" x="2102" y="3472" width="56" height="40"/><text class="mn mw" x="2130" y="3512">7</text><rect class="m1" x="2176" y="3472" width="297" height="40"/><text class="mn" x="2324.5" y="3512">1</text><rect class="m3" x="2497" y="3472" width="548" height="40"/><text class="mn" x="2771" y="3512">3</text></g>
<g id="AtWOX10"><text class="lab" transform="translate(1423,3566) scale(0.82,1)">AtWOX10</text><rect class="seq" x="1753" y="3542.5" width="956" height="19"/><rect class="m1" x="2114" y="3532" width="294" height="40"/><text class="mn" x="2261" y="3572">1</text></g>
<g id="AtWOX14"><text class="lab" transform="translate(1423,3626) scale(0.82,1)">AtWOX14</text><rect class="seq" x="1753" y="3602.5" width="1024" height="19"/><rect class="m2" x="1825" y="3592" width="252" height="40"/><text class="mn mw" x="1951" y="3632">2</text><rect class="m1" x="2191" y="3592" width="297" height="40"/><text class="mn" x="2339.5" y="3632">1</text></g>
<g id="scalebar">
<path d="M182,3558 H349" stroke="#000" stroke-width="6"/>
<text class="bs" style="fill:#000" x="251" y="3607" textLength="28" lengthAdjust="spacingAndGlyphs">0.6</text>
</g>
<g id="axis">
<text x="1755" y="3697" style="font-family:'Liberation Sans',Arial,sans-serif;font-size:36px">aa</text>
<path d="M1753,3714 H3695" stroke="#000" stroke-width="6"/>
<path d="M1753,3711 V3736 M2238,3711 V3736 M2723,3711 V3736 M3210,3711 V3736 M3695,3711 V3736" stroke="#000" stroke-width="4"/>
<text class="ax" x="1737" y="3775">0</text>
<text class="ax" x="2242" y="3775">100</text>
<text class="ax" x="2730" y="3775">200</text>
<text class="ax" x="3212" y="3775">300</text>
<text class="ax" x="3669" y="3775">400</text>
</g>
<g id="legend">
<rect class="m1" x="112" y="3698" width="80" height="37"/><text class="leg" x="234" y="3735">Motif 1</text>
<rect class="m2" x="501" y="3698" width="80" height="37"/><text class="leg" x="625" y="3735">Motif 2</text>
<rect class="m3" x="893" y="3698" width="80" height="37"/><text class="leg" x="1016" y="3735">Motif 3</text>
<rect class="m4" x="1283" y="3698" width="80" height="37"/><text class="leg" x="1406" y="3735">Motif 4</text>
<rect class="m5" x="112" y="3809" width="82" height="38"/><text class="leg" x="240" y="3846">Motif 5</text>
<rect class="m6" x="504" y="3809" width="82" height="38"/><text class="leg" x="628" y="3846">Motif 6</text>
<rect class="m7" x="893" y="3809" width="80" height="38"/><text class="leg" x="1021" y="3846">Motif 7</text>
<rect class="m8" x="1286" y="3809" width="82" height="38"/><text class="leg" x="1410" y="3846">Motif 8</text>
</g>
</svg>
